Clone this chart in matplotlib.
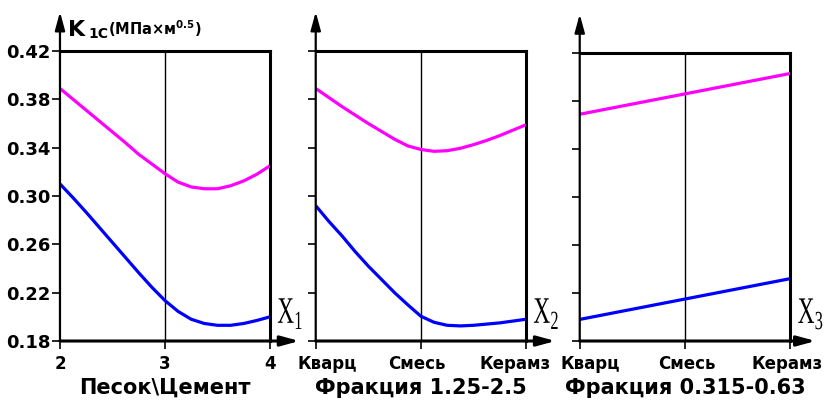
import matplotlib
matplotlib.use("Agg")
import matplotlib.pyplot as plt
from matplotlib.transforms import ScaledTranslation, Affine2D
from matplotlib.patheffects import AbstractPathEffect

plt.rcParams['font.family'] = 'DejaVu Sans'
plt.rcParams['mathtext.fontset'] = 'custom'
plt.rcParams['mathtext.rm'] = 'Liberation Serif'
plt.rcParams['mathtext.bf'] = 'DejaVu Sans:bold'

# K1C, MPa*m^0.5 -- sand/cement ratio
x_sand = [2, 2.125, 2.25, 2.375, 2.5, 2.625, 2.75, 2.875, 3, 3.125, 3.25,
          3.375, 3.5, 3.625, 3.75, 3.875, 4]
k_sand_top = [0.389, 0.380, 0.371, 0.362, 0.353, 0.344, 0.3345, 0.3265, 0.3185,
              0.3115, 0.3075, 0.306, 0.306, 0.3085, 0.3125, 0.318, 0.325]
k_sand_bot = [0.310, 0.2985, 0.2865, 0.274, 0.2615, 0.249, 0.2365, 0.2245, 0.2135,
              0.2045, 0.198, 0.1945, 0.193, 0.193, 0.1945, 0.197, 0.200]

# coarse fraction 1.25-2.5
x_coarse = [0, 0.125, 0.25, 0.375, 0.5, 0.625, 0.75, 0.875, 1, 1.125, 1.25,
            1.375, 1.5, 1.625, 1.75, 1.875, 2]
k_coarse_top = [0.389, 0.3815, 0.374, 0.367, 0.360, 0.3535, 0.347, 0.3415, 0.3385,
                0.337, 0.3375, 0.3395, 0.3425, 0.346, 0.350, 0.3545, 0.359]
k_coarse_bot = [0.292, 0.279, 0.267, 0.254, 0.242, 0.231, 0.220, 0.210, 0.2005,
                0.1955, 0.193, 0.1925, 0.193, 0.194, 0.195, 0.1965, 0.198]

# fine fraction 0.315-0.63
x_fine = [0, 1, 2]
k_fine_top = [0.369, 0.386, 0.403]
k_fine_bot = [0.198, 0.215, 0.232]

yticks = [0.18, 0.22, 0.26, 0.30, 0.34, 0.38, 0.42]
sand_ticks = ['2', '3', '4']
fill_ticks = ['Кварц', 'Смесь', 'Керамз']
titles = ['Песок\\Цемент', 'Фракция 1.25-2.5', 'Фракция 0.315-0.63']
factors = ['$\\mathrm{X}_{1}$', '$\\mathrm{X}_{2}$', '$\\mathrm{X}_{3}$']


class Squeeze(AbstractPathEffect):
    """Scale glyphs about the text origin (narrow serif X)."""

    def __init__(self, sx=1.0, sy=1.0):
        super().__init__()
        self._sx, self._sy = sx, sy

    def draw_path(self, renderer, gc, tpath, affine, rgbFace=None):
        m = affine.get_matrix()
        x0, y0 = m[0, 2], m[1, 2]
        sq = Affine2D().translate(-x0, -y0).scale(self._sx, self._sy).translate(x0, y0)
        renderer.draw_path(gc, tpath, affine + sq, rgbFace)


fig = plt.figure(figsize=(8.25, 4.05), dpi=100)
ax1 = fig.add_axes([0.0727, 0.158, 0.2545, 0.716])
ax2 = fig.add_axes([0.3827, 0.158, 0.2549, 0.716])
ax3 = fig.add_axes([0.7027, 0.158, 0.2553, 0.711])

panels = [
    (ax1, x_sand, k_sand_top, k_sand_bot, sand_ticks),
    (ax2, x_coarse, k_coarse_top, k_coarse_bot, fill_ticks),
    (ax3, x_fine, k_fine_top, k_fine_bot, fill_ticks),
]

for i, (ax, x, top, bot, labels) in enumerate(panels):
    ax.plot(x, top, color='#ff00ff', lw=2.3, solid_capstyle='butt', zorder=3)
    ax.plot(x, bot, color='#0000ff', lw=2.3, solid_capstyle='butt', zorder=3)
    ax.set_xlim(x[0], x[-1])
    ax.set_ylim(0.18, 0.42)
    mid = (x[0] + x[-1]) / 2
    ax.axvline(mid, color='black', lw=1, zorder=2)

    ax.set_xticks([x[0], mid, x[-1]])
    ax.set_xticklabels(labels, fontsize=12, fontweight='bold')
    ax.set_yticks(yticks)
    if i == 0:
        ax.set_yticklabels(['%.2f' % v for v in yticks], fontsize=13, fontweight='bold')
    else:
        ax.set_yticklabels([])
    ax.tick_params(axis='both', direction='out', length=6, width=1.2, color='black')
    ax.tick_params(axis='x', pad=4)
    ax.tick_params(axis='y', pad=0.5)

    ax.spines['left'].set_visible(False)
    ax.spines['bottom'].set_visible(False)
    ax.spines['top'].set_linewidth(2.2)
    ax.spines['right'].set_linewidth(2.2)

    # axes with arrows
    ax.annotate('', xy=(0, 1.135), xytext=(0, 0), xycoords='axes fraction',
                arrowprops=dict(arrowstyle='-|>,head_length=1.1,head_width=0.3',
                                lw=1.6, color='black', shrinkA=0, shrinkB=0),
                annotation_clip=False, zorder=5)
    ax.annotate('', xy=(1.14 if i < 2 else 1.12, 0), xytext=(0, 0), xycoords='axes fraction',
                arrowprops=dict(arrowstyle='-|>,head_length=1.1,head_width=0.3',
                                lw=2.2, color='black', shrinkA=0, shrinkB=0),
                annotation_clip=False, zorder=5)

    ax.text(1.035, 0.062, factors[i], transform=ax.transAxes, fontsize=27,
            ha='left', va='baseline', zorder=6,
            path_effects=[Squeeze(0.62, 1.0)])

    cx = ax.get_position().x0 + ax.get_position().width / 2
    fig.text(cx, 0.042, titles[i], ha='center', va='center', fontsize=15,
             fontweight='bold')

# shift category labels so they stay inside the panel
shifts = {ax2: [12, -4, -11], ax3: [11, 2, -3]}
for ax, dx in shifts.items():
    for lab, d in zip(ax.get_xticklabels(), dx):
        lab.set_transform(lab.get_transform() + ScaledTranslation(d / 100, 0, fig.dpi_scale_trans))

# ordinate title K1C (MPa x m^0.5)
fig.text(68 / 825, 1 - 36 / 405, 'K', fontsize=16, fontweight='bold',
         ha='left', va='baseline')
fig.text(88 / 825, 1 - 38 / 405, '1C', fontsize=10, fontweight='bold',
         ha='left', va='baseline')
fig.text(108 / 825, 1 - 35 / 405, '(МПа×м$^{\\mathbf{0.5}}$)', fontsize=10.5,
         fontweight='bold', ha='left', va='baseline')

fig.savefig('out.png', dpi=100)
